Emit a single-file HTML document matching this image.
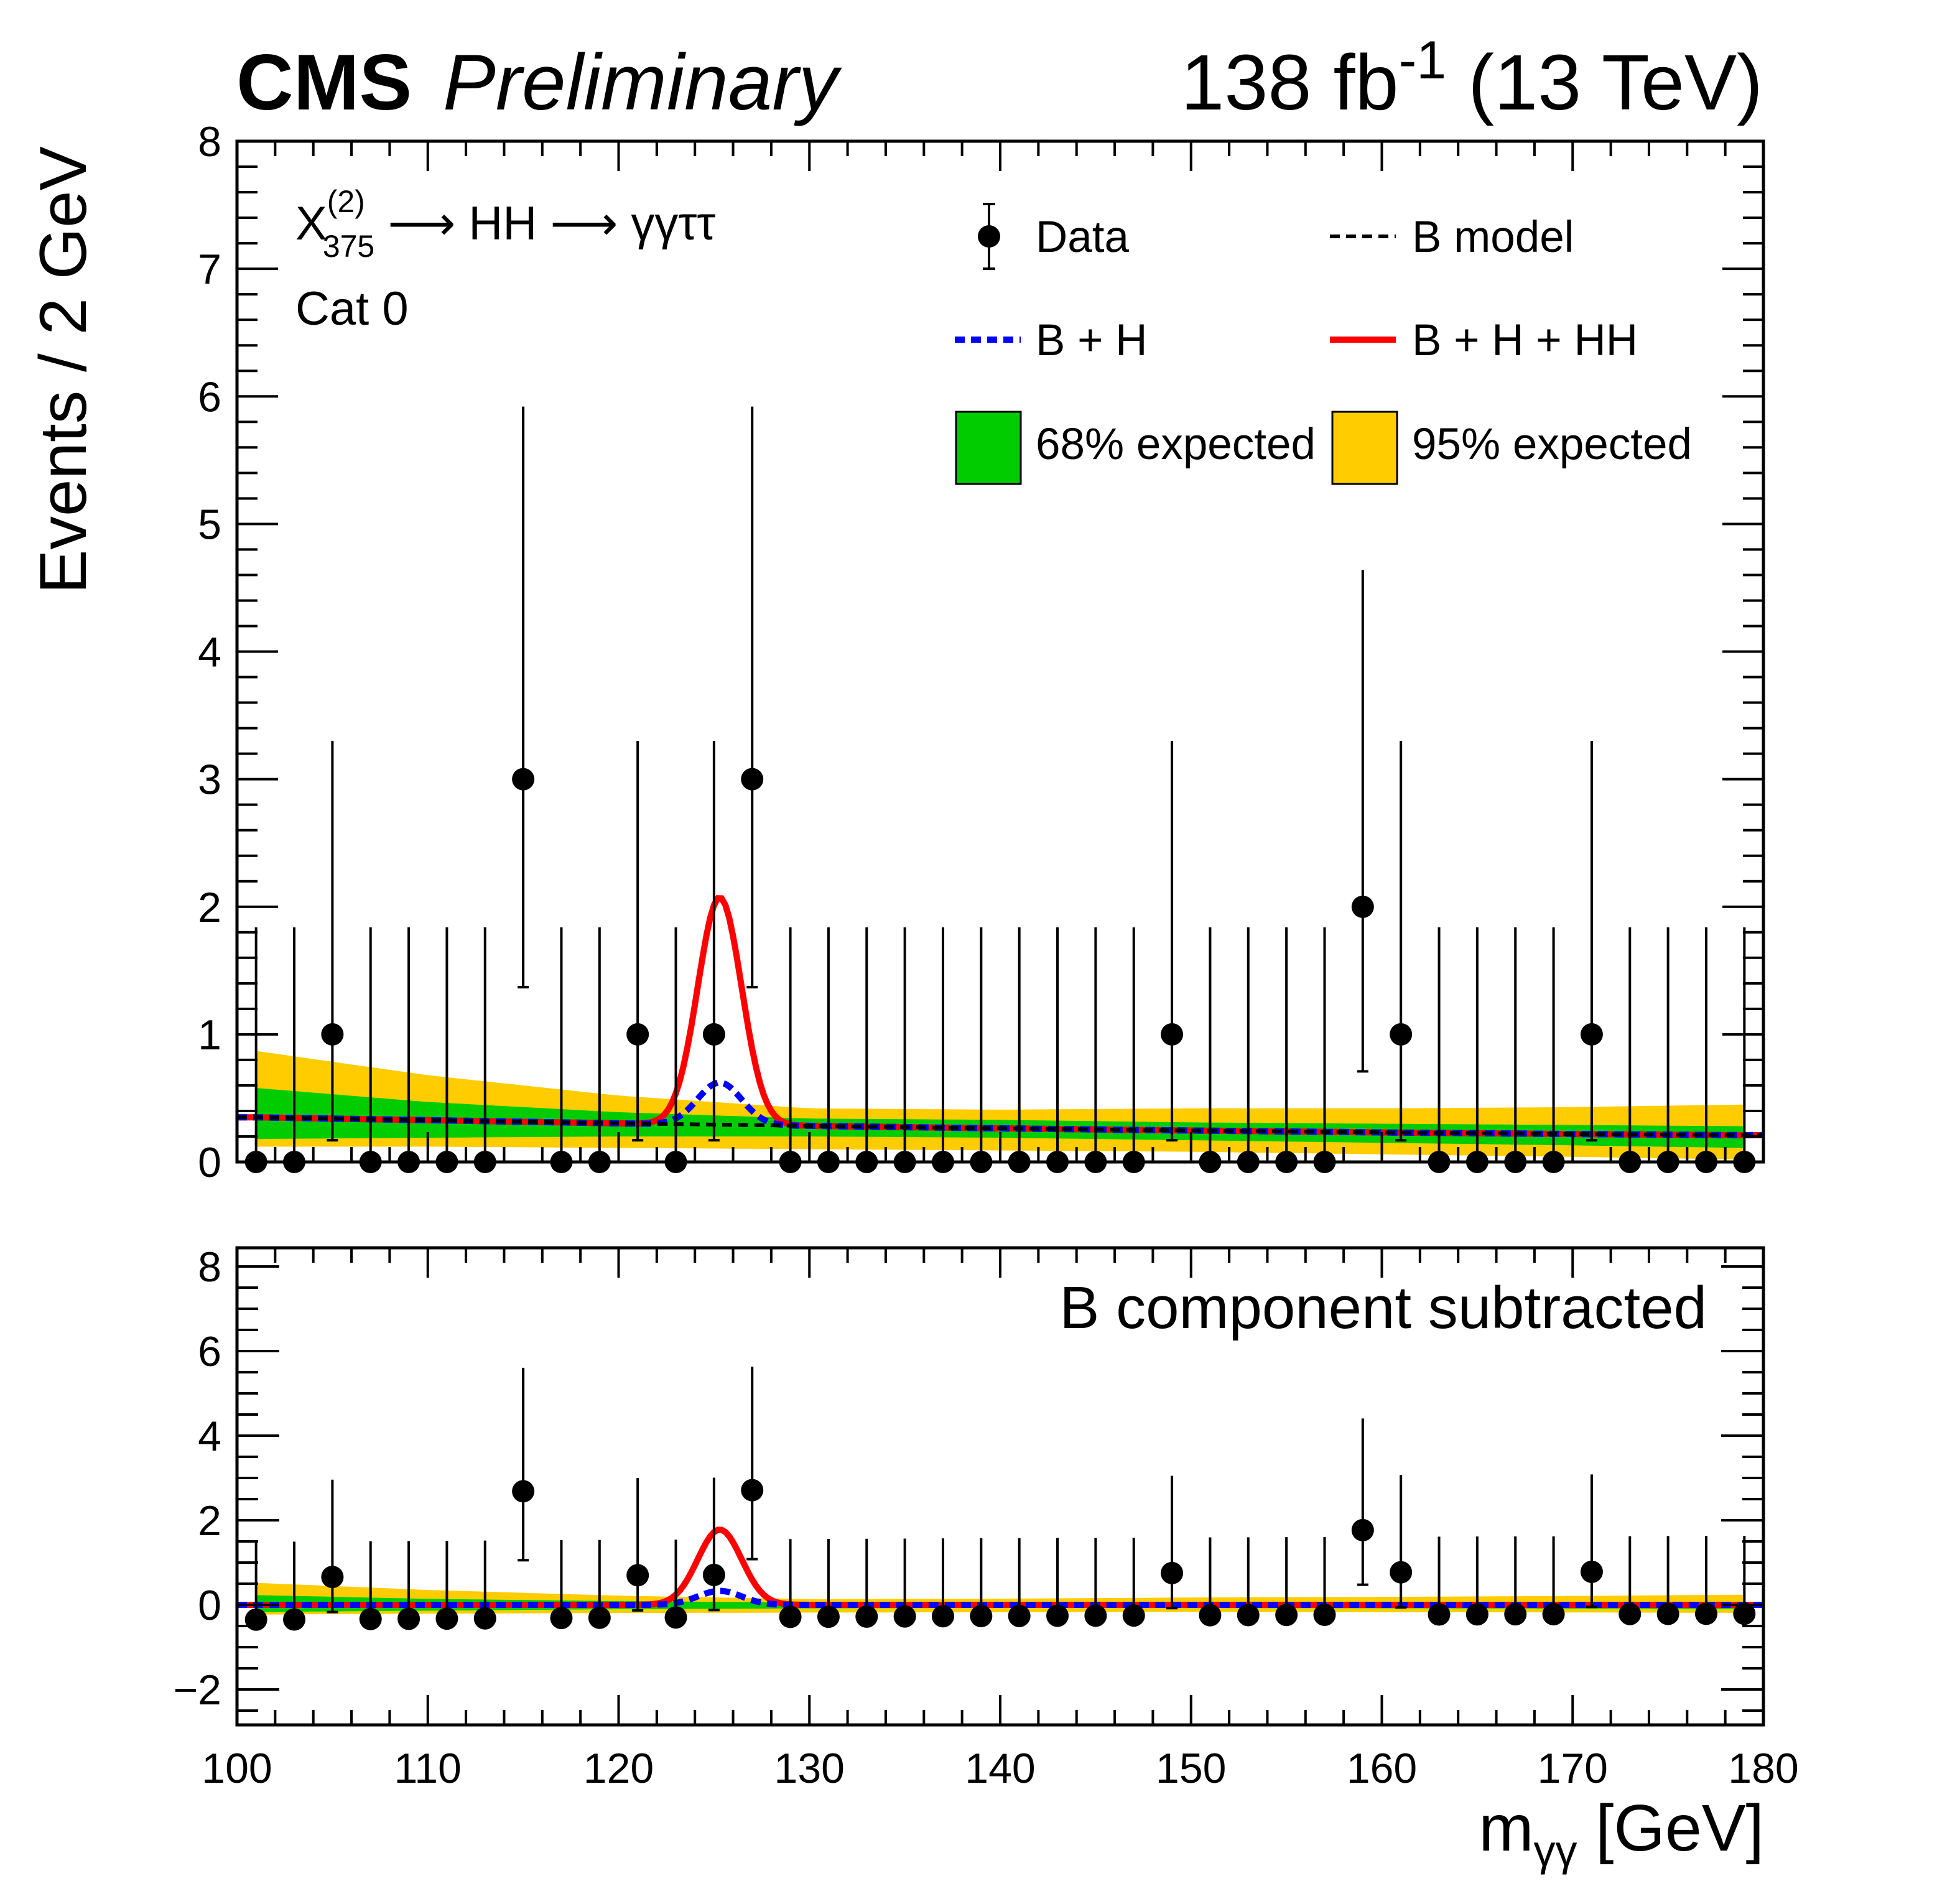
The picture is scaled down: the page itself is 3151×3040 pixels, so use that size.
<!DOCTYPE html>
<html><head><meta charset="utf-8"><style>
html,body{margin:0;padding:0;background:#fff;}
svg{display:block;font-family:"Liberation Sans",sans-serif;}
</style></head><body>
<svg id="c" width="3151" height="3040" viewBox="0 0 3151 3040" xmlns="http://www.w3.org/2000/svg">
<g id="bands1"></g>
<g id="bands2"></g>
<g id="lines"></g>
<g id="pts"></g>
<g id="axes"></g>
<text x="380" y="176" font-size="127" font-weight="bold">CMS</text>
<text x="712" y="176" font-size="127" font-style="italic">Preliminary</text>
<text x="2834" y="176" font-size="126" text-anchor="end">138 fb<tspan dy="-50" font-size="86">-1</tspan><tspan dy="50"> (13 TeV)</tspan></text>
<text transform="translate(138,595) rotate(-90)" font-size="107" text-anchor="middle">Events / 2 GeV</text>
<text x="2836" y="2975" font-size="106" text-anchor="end">m<tspan dy="24" font-size="70">γγ</tspan><tspan dy="-24"> [GeV]</tspan></text>
<text x="475" y="385" font-size="76">X<tspan dy="-44" font-size="50">(2)</tspan><tspan dy="72" dx="-68" font-size="50">375</tspan><tspan dy="-28"> ⟶ HH ⟶ γγττ</tspan></text>
<text x="475" y="522" font-size="76">Cat 0</text>
<text x="2744" y="2135" font-size="96" text-anchor="end">B component subtracted</text>
<g transform="translate(-14,2)">
<line x1="1604" y1="326" x2="1604" y2="430" stroke="#000" stroke-width="4"/>
<line x1="1594" y1="326" x2="1614" y2="326" stroke="#000" stroke-width="4"/>
<line x1="1594" y1="430" x2="1614" y2="430" stroke="#000" stroke-width="4"/>
<circle cx="1604" cy="378" r="18" fill="#000"/>
<text x="1679" y="403" font-size="71">Data</text>
<line x1="2152" y1="378" x2="2258" y2="378" stroke="#000" stroke-width="6" stroke-dasharray="16,10"/>
<text x="2284" y="403" font-size="71">B model</text>
<line x1="1549" y1="544" x2="1655" y2="544" stroke="#0000ff" stroke-width="10" stroke-dasharray="16,10"/>
<text x="1679" y="569" font-size="71">B + H</text>
<line x1="2152" y1="544" x2="2258" y2="544" stroke="#ff0000" stroke-width="10"/>
<text x="2284" y="569" font-size="71">B + H + HH</text>
<rect x="1551" y="660" width="104" height="116" fill="#00cc00" stroke="#000" stroke-width="3"/>
<text x="1679" y="736" font-size="71">68% expected</text>
<rect x="2156" y="660" width="104" height="116" fill="#ffcc00" stroke="#000" stroke-width="3"/>
<text x="2284" y="736" font-size="71">95% expected</text>
</g>
</svg>
<script>
const binCenters=[101,103,105,107,109,111,113,115,117,119,121,123,125,127,129,131,133,135,137,139,141,143,145,147,149,151,153,155,157,159,161,163,165,167,169,171,173,175,177,179];
const counts=[0,0,1,0,0,0,0,3,0,0,1,0,1,3,0,0,0,0,0,0,0,0,0,0,1,0,0,0,0,2,1,0,0,0,0,1,0,0,0,0];
const bkg=[0.35,0.345,0.34,0.335,0.33,0.325,0.32,0.315,0.31,0.305,0.30,0.297,0.293,0.289,0.285,0.281,0.277,0.273,0.269,0.265,0.262,0.258,0.255,0.251,0.248,0.245,0.242,0.239,0.236,0.233,0.230,0.228,0.225,0.223,0.220,0.218,0.216,0.214,0.212,0.210];
const errLoTable=[0,0.83,1.29,1.63];
const errHiTable=[1.84,2.30,2.64,2.92];
const bandX=[101,110,120,130,140,150,160,170,179];
const band95Hi=[0.87,0.68,0.52,0.42,0.41,0.42,0.42,0.43,0.45];
const band68Hi=[0.58,0.47,0.39,0.34,0.33,0.31,0.30,0.29,0.28];
const band68Lo=[0.18,0.19,0.20,0.20,0.19,0.17,0.15,0.13,0.11];
const band95Lo=[0.12,0.12,0.11,0.10,0.09,0.08,0.06,0.04,0.02];
const sigMass=[125.3];
const sigWidth=[1.15];
const hPeak=[0.33];
const hhPeak=[1.45];
const xTicks=[100,110,120,130,140,150,160,170,180];
const yTicksTop=[0,1,2,3,4,5,6,7,8];
const yTicksBot=[-2,0,2,4,6,8];

const NS="http://www.w3.org/2000/svg";
const L=381,R=2835;
const T1=227,B1=1868,T2=2006,B2=2773;
const sx=v=>L+(v-100)*(R-L)/80;
const sy1=v=>B1-(v-0)*(B1-T1)/8;
const Y0b=2580,perB=68;
const sy2=v=>Y0b-v*perB;
function mk(tag,attrs,parent){const e=document.createElementNS(NS,tag);for(const k in attrs)e.setAttribute(k,attrs[k]);parent.appendChild(e);return e;}
function interp(xs,ys,x){if(x<=xs[0])return ys[0];for(let i=1;i<xs.length;i++){if(x<=xs[i]){const t=(x-xs[i-1])/(xs[i]-xs[i-1]);return ys[i-1]+t*(ys[i]-ys[i-1]);}}return ys[ys.length-1];}
const bAt=x=>interp(binCenters,bkg,x);
const gaus=x=>Math.exp(-0.5*Math.pow((x-sigMass[0])/sigWidth[0],2));

function bandPath(hi,lo,sy,sub){
  let d="";const n=80;
  for(let i=0;i<=n;i++){const x=101+i*78/n;const v=interp(bandX,hi,x)-(sub?bAt(x):0);d+=(i?"L":"M")+sx(x).toFixed(1)+","+sy(v).toFixed(1);}
  for(let i=n;i>=0;i--){const x=101+i*78/n;const v=interp(bandX,lo,x)-(sub?bAt(x):0);d+="L"+sx(x).toFixed(1)+","+sy(v).toFixed(1);}
  return d+"Z";
}
const gb1=document.getElementById('bands1'),gb2=document.getElementById('bands2');
let e;
e=mk('path',{d:bandPath(band95Hi,band95Lo,sy1,false),fill:'#ffcc00'},gb1);


e=mk('path',{d:bandPath(band68Hi,band68Lo,sy1,false),fill:'#00cc00'},gb1);


e=mk('path',{d:bandPath(band95Hi,band95Lo,sy2,true),fill:'#ffcc00'},gb2);


e=mk('path',{d:bandPath(band68Hi,band68Lo,sy2,true),fill:'#00cc00'},gb2);



const gl=document.getElementById('lines');
function curve(f,sy){let d="";const n=400;for(let i=0;i<=n;i++){const x=100+i*80/n;d+=(i?"L":"M")+sx(x).toFixed(1)+","+sy(f(x)).toFixed(1);}return d;}
const fB=x=>bAt(x), fBH=x=>bAt(x)+hPeak[0]*gaus(x), fBHH=x=>bAt(x)+(hPeak[0]+hhPeak[0])*gaus(x);
e=mk('path',{d:curve(fBHH,sy1),fill:'none',stroke:'#ff0000','stroke-width':10},gl);


e=mk('path',{d:curve(fBH,sy1),fill:'none',stroke:'#0000ff','stroke-width':10,'stroke-dasharray':'16,10'},gl);


e=mk('path',{d:curve(fB,sy1),fill:'none',stroke:'#000','stroke-width':6,'stroke-dasharray':'16,10'},gl);


e=mk('path',{d:curve(x=>fBHH(x)-bAt(x),sy2),fill:'none',stroke:'#ff0000','stroke-width':10},gl);


e=mk('path',{d:curve(x=>fBH(x)-bAt(x),sy2),fill:'none',stroke:'#0000ff','stroke-width':10,'stroke-dasharray':'16,10'},gl);



const gp=document.getElementById('pts');
function point(x,v,lo,hi,sy,name){
  const g=mk('g',{},gp);
  
  
  mk('line',{x1:sx(x),x2:sx(x),y1:sy(v+hi),y2:sy(v-lo),stroke:'#000','stroke-width':4},g);
  if(lo>0)mk('line',{x1:sx(x)-9,x2:sx(x)+9,y1:sy(v-lo),y2:sy(v-lo),stroke:'#000','stroke-width':4},g);
  mk('circle',{cx:sx(x),cy:sy(v),r:18,fill:'#000'},g);
}
binCenters.forEach((x,i)=>{
  const n=counts[i],lo=errLoTable[Math.min(n,3)],hi=errHiTable[Math.min(n,3)];
  point(x,n,lo,hi,sy1,'data-point-top');
  point(x,n-bkg[i],lo,hi,sy2,'data-point-bottom');
});

const ga=document.getElementById('axes');
function frame(T,B,name){const r=mk('rect',{x:L,y:T,width:R-L,height:B-T,fill:'none',stroke:'#000','stroke-width':5},ga);}
frame(T1,B1,'top-frame');frame(T2,B2,'bottom-frame');
function tk(x1,y1,x2,y2){mk('line',{x1,y1,x2,y2,stroke:'#000','stroke-width':4},ga);}
for(let v=100;v<=180;v+=2){const X=sx(v);const maj=(v%10===0);const l=maj?48:24;
  tk(X,B1,X,B1-l);tk(X,T1,X,T1+l);tk(X,B2,X,B2-l);tk(X,T2,X,T2+l);}
for(let k=0;k<=40;k++){const v=k*0.2;const Y=sy1(v);const maj=(k%5===0);const l=maj?66:33;tk(L,Y,L+l,Y);tk(R,Y,R-l,Y);}
for(let v=-2.5;v<=8.4;v+=0.5){const Y=sy2(v);if(Y<T2||Y>B2)continue;const maj=(Math.abs(v%2)<1e-6);const l=maj?68:34;tk(L,Y,L+l,Y);tk(R,Y,R-l,Y);}
xTicks.forEach(v=>{const t=mk('text',{x:sx(v),y:2866,'font-size':68,'text-anchor':'middle'},ga);t.textContent=v;
  
  });
yTicksTop.forEach(v=>{const t=mk('text',{x:356,y:sy1(v)+24,'font-size':68,'text-anchor':'end'},ga);t.textContent=v;
  
  });
yTicksBot.forEach(v=>{const t=mk('text',{x:356,y:sy2(v)+24,'font-size':68,'text-anchor':'end'},ga);t.textContent=v<0?'−'+(-v):v;
  
  });
</script>
</body></html>
